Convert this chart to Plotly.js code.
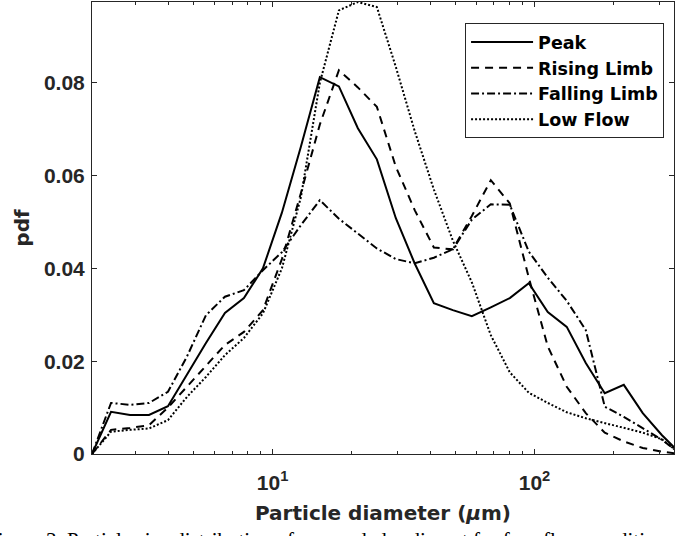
<!DOCTYPE html>
<html>
<head>
<meta charset="utf-8">
<script src="https://cdn.plot.ly/plotly-3.0.1.min.js"></script>
<style>
html,body{margin:0;padding:0;background:#fff;}
#chart{width:675px;height:536px;}
</style>
</head>
<body>
<div id="chart"></div>
<script>
// Particle diameter (µm), log-spaced size classes
const diameter = [2.043, 2.415, 2.853, 3.372, 3.984, 4.708, 5.564, 6.575, 7.769, 9.183,
  10.85, 12.82, 15.15, 17.91, 21.16, 25.01, 29.55, 34.92, 41.28, 48.77,
  57.64, 68.11, 80.49, 95.13, 112.4, 132.8, 157.0, 185.5, 219.3, 259.1, 306.2, 361.8];

const peak = [0, 0.0091, 0.0084, 0.0084, 0.0103, 0.0172, 0.0239, 0.0304, 0.0336, 0.0400,
  0.0520, 0.0662, 0.0812, 0.0792, 0.0702, 0.0635, 0.0508, 0.0410, 0.0325, 0.0310,
  0.0297, 0.0316, 0.0336, 0.0368, 0.0306, 0.0274, 0.0196, 0.0131, 0.0149, 0.0088, 0.0041, 0];

const risingLimb = [0, 0.0052, 0.0056, 0.0062, 0.0100, 0.0145, 0.0188, 0.0235, 0.0263, 0.0310,
  0.0420, 0.0562, 0.0710, 0.0827, 0.0790, 0.0748, 0.0619, 0.0525, 0.0445, 0.0441,
  0.0513, 0.0590, 0.0540, 0.0380, 0.0232, 0.0145, 0.0088, 0.0046, 0.0027, 0.0013, 0.0005, 0];

const fallingLimb = [0, 0.0110, 0.0106, 0.0110, 0.0134, 0.0210, 0.0299, 0.0339, 0.0353, 0.0396,
  0.0435, 0.0493, 0.0547, 0.0507, 0.0475, 0.0443, 0.0420, 0.0411, 0.0423, 0.0441,
  0.0505, 0.0538, 0.0537, 0.0436, 0.0380, 0.0330, 0.0267, 0.0102, 0.0080, 0.0056, 0.0031, 0];

const lowFlow = [0, 0.0048, 0.0052, 0.0055, 0.0073, 0.0123, 0.0166, 0.0213, 0.0250, 0.0303,
  0.0400, 0.0553, 0.0800, 0.0956, 0.0974, 0.0963, 0.0834, 0.0695, 0.0570, 0.0460,
  0.0370, 0.0256, 0.0176, 0.0132, 0.0110, 0.0090, 0.0077, 0.0067, 0.0057, 0.0046, 0.0032, 0];

const seriesNames = ['Peak', 'Rising Limb', 'Falling Limb', 'Low Flow'];
const seriesData = [peak, risingLimb, fallingLimb, lowFlow];
const seriesDash = ['solid', '8px,6px', '8px,3px,2px,3px', '2px,2px'];

const xTickVals = [10, 100];
const xTickText = ['10<sup>1</sup>', '10<sup>2</sup>'];
const xMinorVals = [3, 4, 5, 6, 7, 8, 9, 20, 30, 40, 50, 60, 70, 80, 90, 200, 300];
const yTickVals = [0, 0.02, 0.04, 0.06, 0.08];
const yTickText = ['0', '0.02', '0.04', '0.06', '0.08'];

const FONT = 'Liberation Sans, Arial, sans-serif';
const LFONT = 'DejaVu Sans, sans-serif';
const AX = '#262626';

const traces = seriesNames.map((name, i) => ({
  x: diameter,
  y: seriesData[i],
  type: 'scatter',
  mode: 'lines',
  name: name,
  line: {color: '#000000', width: 2, dash: seriesDash[i]},
  cliponaxis: true
}));

const layout = {
  width: 675,
  height: 536,
  margin: {l: 92, r: 1, t: 2, b: 82},
  paper_bgcolor: '#ffffff',
  plot_bgcolor: '#ffffff',
  showlegend: true,
  legend: {
    x: 0.641, y: 0.953, xanchor: 'left', yanchor: 'top',
    bgcolor: '#ffffff', bordercolor: '#262626', borderwidth: 1,
    font: {family: LFONT, size: 17.5, color: '#000000', weight: 'bold'},
    itemwidth: 62,
    tracegroupgap: 0
  },
  xaxis: {
    type: 'log',
    range: [Math.log10(2.043), Math.log10(341)],
    showline: true, linecolor: AX, linewidth: 1, mirror: 'ticks',
    ticks: 'inside', ticklen: 5, tickwidth: 1, tickcolor: AX,
    tickmode: 'array', tickvals: xTickVals, ticktext: xTickText,
    ticklabelstandoff: 10,
    minor: {tickmode: 'array', tickvals: xMinorVals, ticks: 'inside', ticklen: 3, tickwidth: 1, tickcolor: AX, showgrid: false},
    showgrid: false, zeroline: false,
    tickfont: {family: FONT, size: 21, color: AX, weight: 'bold'},
    title: {text: 'Particle diameter (<i>μ</i>m)', font: {family: LFONT, size: 20, color: AX, weight: 'bold'}, standoff: 12}
  },
  yaxis: {
    range: [0, 0.0974],
    showline: true, linecolor: AX, linewidth: 1, mirror: 'ticks',
    ticks: 'inside', ticklen: 5, tickwidth: 1, tickcolor: AX,
    tickmode: 'array', tickvals: yTickVals, ticktext: yTickText,
    ticklabelstandoff: 2,
    showgrid: false, zeroline: false,
    tickfont: {family: FONT, size: 21, color: AX, weight: 'bold'},
    title: {text: 'pdf', font: {family: LFONT, size: 20, color: AX, weight: 'bold'}, standoff: 8}
  },
  annotations: [{
    xref: 'paper', yref: 'paper', x: -0.186, y: -0.16, xanchor: 'left', yanchor: 'top',
    showarrow: false,
    text: 'Figure 3. Particle size distribution of suspended sediment for four flow conditions across all events',
    font: {family: 'Liberation Serif, Times New Roman, serif', size: 21, color: '#000000'}
  }]
};

Plotly.newPlot('chart', traces, layout, {staticPlot: true, displayModeBar: false});
</script>
</body>
</html>
